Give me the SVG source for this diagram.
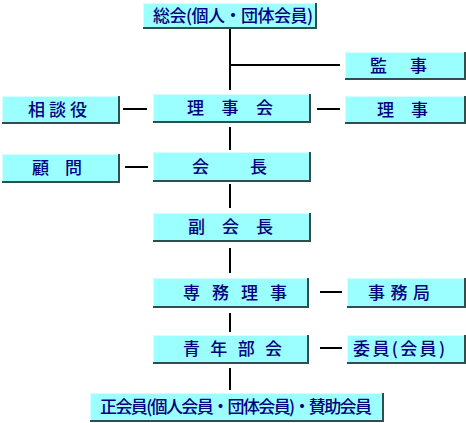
<svg xmlns="http://www.w3.org/2000/svg" width="466" height="423" viewBox="0 0 466 423">
<style>
.b{fill:#9cffff}
.sh{fill:none;stroke:#2f4f4f;stroke-width:2}
.hl{fill:none;stroke:#d8ffff;stroke-width:1}
.t{font-family:"Noto Sans CJK JP","Noto Sans CJK SC",sans-serif;font-size:17px;font-weight:500;fill:#000080}
.c{stroke:#000;stroke-width:2;fill:none}
</style>
<rect width="466" height="423" fill="#fff"/>
<g id="connectors">
<path class="c" d="M230,28V90M230,65H340"/>
<path class="c" d="M230,127V150M230,184V208M230,248V273M230,313V332M230,368V390"/>
<path class="c" d="M123,109H147M317,109H340M125,167H148M320,292H342M320,348H342"/>
</g>
<g id="n-sokai">
<rect class="b" x="143" y="3" width="173" height="25"/><path class="hl" d="M143.5,28V3.5H316"/><path class="sh" d="M316,3V28H143"/>
<text class="t" x="153" y="22" textLength="160" lengthAdjust="spacing">総会(個人・団体会員)</text>
</g>
<g id="n-kanji">
<rect class="b" x="345" y="52" width="120" height="27"/><path class="hl" d="M345.5,79V52.5H465"/><path class="sh" d="M465,52V79H345"/>
<text class="t" x="370" y="71.5" textLength="57" lengthAdjust="spacing">監事</text>
</g>
<g id="n-rijikai">
<rect class="b" x="153" y="94" width="157" height="28"/><path class="hl" d="M153.5,122V94.5H310"/><path class="sh" d="M310,94V122H153"/>
<text class="t" x="187" y="114" textLength="86" lengthAdjust="spacing">理事会</text>
</g>
<g id="n-sodanyaku">
<rect class="b" x="2" y="96" width="117" height="27"/><path class="hl" d="M2.5,123V96.5H119"/><path class="sh" d="M119,96V123H2"/>
<text class="t" x="28" y="115.5" textLength="59" lengthAdjust="spacing">相談役</text>
</g>
<g id="n-riji">
<rect class="b" x="345" y="96" width="120" height="27"/><path class="hl" d="M345.5,123V96.5H465"/><path class="sh" d="M465,96V123H345"/>
<text class="t" x="377" y="115.5" textLength="51" lengthAdjust="spacing">理事</text>
</g>
<g id="n-kaicho">
<rect class="b" x="153" y="152" width="157" height="29"/><path class="hl" d="M153.5,181V152.5H310"/><path class="sh" d="M310,152V181H153"/>
<text class="t" x="192" y="172.5" textLength="75" lengthAdjust="spacing">会長</text>
</g>
<g id="n-komon">
<rect class="b" x="2" y="154" width="117" height="28"/><path class="hl" d="M2.5,182V154.5H119"/><path class="sh" d="M119,154V182H2"/>
<text class="t" x="32" y="174" textLength="50" lengthAdjust="spacing">顧問</text>
</g>
<g id="n-fukukaicho">
<rect class="b" x="153" y="213" width="157" height="28"/><path class="hl" d="M153.5,241V213.5H310"/><path class="sh" d="M310,213V241H153"/>
<text class="t" x="188" y="233" textLength="85" lengthAdjust="spacing">副会長</text>
</g>
<g id="n-senmuriji">
<rect class="b" x="153" y="278" width="155" height="29"/><path class="hl" d="M153.5,307V278.5H308"/><path class="sh" d="M308,278V307H153"/>
<text class="t" x="183" y="298.5" textLength="104" lengthAdjust="spacing">専務理事</text>
</g>
<g id="n-jimukyoku">
<rect class="b" x="347" y="278" width="118" height="29"/><path class="hl" d="M347.5,307V278.5H465"/><path class="sh" d="M465,278V307H347"/>
<text class="t" x="368" y="298.5" textLength="62" lengthAdjust="spacing">事務局</text>
</g>
<g id="n-seinenbukai">
<rect class="b" x="153" y="335" width="155" height="28"/><path class="hl" d="M153.5,363V335.5H308"/><path class="sh" d="M308,335V363H153"/>
<text class="t" x="183" y="355" textLength="99" lengthAdjust="spacing">青年部会</text>
</g>
<g id="n-iin">
<rect class="b" x="347" y="335" width="118" height="28"/><path class="hl" d="M347.5,363V335.5H465"/><path class="sh" d="M465,335V363H347"/>
<text class="t" x="353" y="355" textLength="92" lengthAdjust="spacing">委員(会員)</text>
</g>
<g id="n-seikaiin">
<rect class="b" x="90" y="393" width="293" height="28"/><path class="hl" d="M90.5,421V393.5H383"/><path class="sh" d="M383,393V421H90"/>
<text class="t" x="100" y="413" textLength="272" lengthAdjust="spacing">正会員(個人会員・団体会員)・賛助会員</text>
</g>
</svg>
